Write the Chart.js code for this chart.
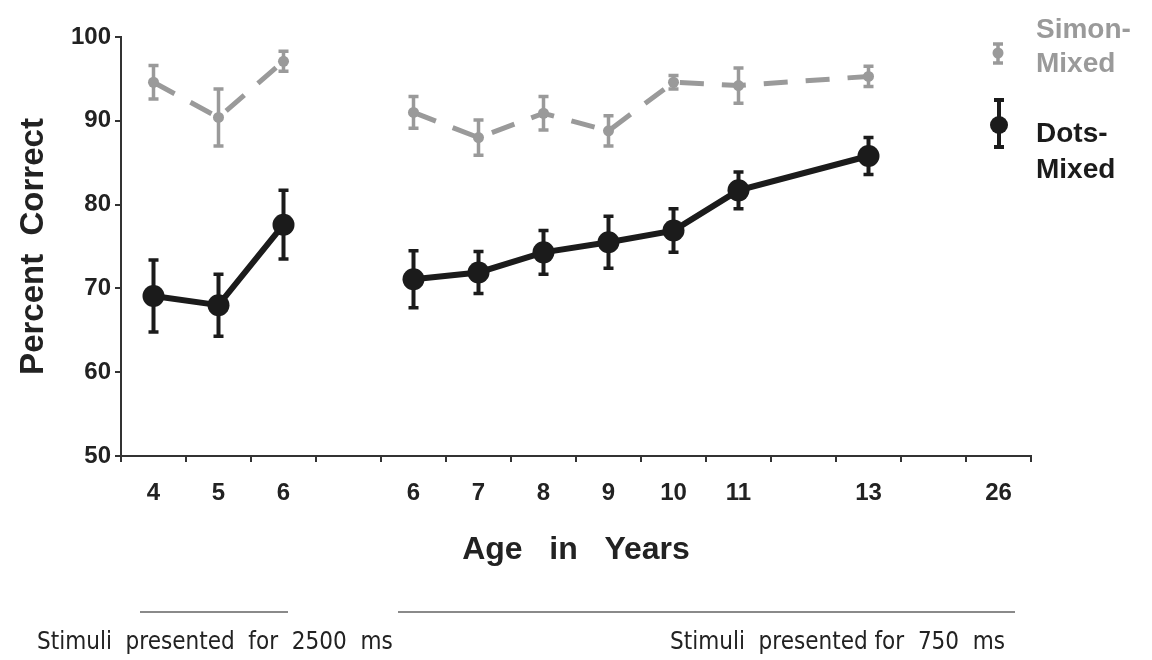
<!DOCTYPE html>
<html>
<head>
<meta charset="utf-8">
<script src="https://cdn.jsdelivr.net/npm/chart.js@4.4.1/dist/chart.umd.min.js"></script>
<style>
  html, body { margin: 0; padding: 0; background: #fff; }
  canvas { display: block; }
</style>
</head>
<body>
<canvas id="myChart" width="1152" height="660"></canvas>
<script>
// slots on the x axis (blank slots are spacers between groups)
const ageLabels = ['4', '5', '6', '', '6', '7', '8', '9', '10', '11', '', '13', '', '26'];

// Percent correct
const dotsMixed = [69.1, 68.0, 77.6, null, 71.1, 71.9, 74.3, 75.5, 76.9, 81.7, null, 85.8, null, null];
const dotsErr   = [4.3, 3.7, 4.1, null, 3.4, 2.5, 2.6, 3.1, 2.6, 2.2, null, 2.2, null, null];
const simonMixed = [94.6, 90.4, 97.1, null, 91.0, 88.0, 90.9, 88.8, 94.6, 94.2, null, 95.3, null, null];
const simonErr   = [2.0, 3.4, 1.2, null, 1.9, 2.1, 2.0, 1.8, 0.8, 2.1, null, 1.2, null, null];

const yTicks = [50, 60, 70, 80, 90, 100];

const BLACK = '#1b1b1b';
const GRAY = '#9a9a9a';
const BOLD = '"Liberation Sans", Arial, sans-serif';
const NARROW = '"Liberation Sans Narrow", "DejaVu Sans Condensed", sans-serif';

// hide the connecting segment between the two age groups
// (with spanGaps the segment ending at slot 4 starts at slot 2)
const skipGap = ctx => ctx.p1DataIndex === 4 ? 'rgba(0,0,0,0)' : undefined;

// vertical error bars with caps
const errorBars = {
  id: 'errorBars',
  beforeDatasetsDraw(chart) {
    const ctx = chart.ctx;
    const yScale = chart.scales.y;
    chart.data.datasets.forEach((ds, di) => {
      const meta = chart.getDatasetMeta(di);
      ds.errors.forEach((e, i) => {
        const v = ds.data[i];
        if (v == null || e == null) return;
        const px = meta.data[i].x;
        const top = yScale.getPixelForValue(v + e);
        const bot = yScale.getPixelForValue(v - e);
        ctx.save();
        ctx.strokeStyle = ds.borderColor;
        ctx.lineWidth = ds.errWidth;
        ctx.beginPath();
        ctx.moveTo(px, top); ctx.lineTo(px, bot);
        ctx.stroke();
        ctx.lineWidth = 3.5;
        ctx.beginPath();
        ctx.moveTo(px - 5, top); ctx.lineTo(px + 5, top);
        ctx.moveTo(px - 5, bot); ctx.lineTo(px + 5, bot);
        ctx.stroke();
        ctx.restore();
      });
    });
  }
};

// legend at top right + stimulus-duration notes below the axis
const extras = {
  id: 'extras',
  afterDraw(chart) {
    const ctx = chart.ctx;
    ctx.save();

    // Simon-Mixed marker
    ctx.strokeStyle = GRAY; ctx.fillStyle = GRAY; ctx.lineWidth = 3.5;
    ctx.beginPath();
    ctx.moveTo(998, 44); ctx.lineTo(998, 63);
    ctx.moveTo(993, 44); ctx.lineTo(1003, 44);
    ctx.moveTo(993, 63); ctx.lineTo(1003, 63);
    ctx.stroke();
    ctx.beginPath(); ctx.arc(998, 53, 5.5, 0, Math.PI * 2); ctx.fill();

    // Dots-Mixed marker
    ctx.strokeStyle = BLACK; ctx.fillStyle = BLACK; ctx.lineWidth = 4;
    ctx.beginPath();
    ctx.moveTo(999, 100); ctx.lineTo(999, 147);
    ctx.moveTo(994, 100); ctx.lineTo(1004, 100);
    ctx.moveTo(994, 147); ctx.lineTo(1004, 147);
    ctx.stroke();
    ctx.beginPath(); ctx.arc(999, 125, 9, 0, Math.PI * 2); ctx.fill();

    ctx.font = 'bold 28px ' + BOLD;
    ctx.textAlign = 'left';
    ctx.textBaseline = 'alphabetic';
    ctx.fillStyle = GRAY;
    ctx.fillText('Simon-', 1036, 38);
    ctx.fillText('Mixed', 1036, 72);
    ctx.fillStyle = BLACK;
    ctx.fillText('Dots-', 1036, 142);
    ctx.fillText('Mixed', 1036, 178);

    // duration notes
    ctx.strokeStyle = '#8a8a8a'; ctx.lineWidth = 2;
    ctx.beginPath();
    ctx.moveTo(140, 612); ctx.lineTo(288, 612);
    ctx.moveTo(398, 612); ctx.lineTo(1015, 612);
    ctx.stroke();

    ctx.fillStyle = '#222';
    ctx.font = '24px ' + NARROW;
    ctx.textBaseline = 'middle';
    ctx.fillText('Stimuli  presented  for  2500  ms', 37, 643);
    ctx.fillText('Stimuli  presented for  750  ms', 670, 643);
    ctx.restore();
  }
};

const ctx = document.getElementById('myChart').getContext('2d');
const chart = new Chart(ctx, {
  type: 'line',
  data: {
    labels: ageLabels,
    datasets: [
      {
        label: 'Dots-Mixed',
        data: dotsMixed,
        errors: dotsErr,
        errWidth: 4,
        borderColor: BLACK,
        backgroundColor: BLACK,
        borderWidth: 6,
        pointRadius: 11,
        pointBorderWidth: 0,
        spanGaps: true,
        segment: { borderColor: skipGap },
        order: 0
      },
      {
        label: 'Simon-Mixed',
        data: simonMixed,
        errors: simonErr,
        errWidth: 3.5,
        borderColor: GRAY,
        backgroundColor: GRAY,
        borderWidth: 5,
        borderDash: [24, 18],
        pointRadius: 5.5,
        pointBorderWidth: 0,
        spanGaps: true,
        segment: { borderColor: skipGap },
        order: 1
      }
    ]
  },
  options: {
    responsive: false,
    animation: false,
    layout: { padding: { top: 37, right: 121, left: 0, bottom: 0 } },
    plugins: {
      legend: { display: false },
      tooltip: { enabled: false }
    },
    scales: {
      x: {
        offset: true,
        border: { display: true, color: '#333', width: 2 },
        grid: { offset: true, drawOnChartArea: false, drawTicks: true, tickLength: 6, color: '#333', lineWidth: 2 },
        ticks: { autoSkip: false, maxRotation: 0, padding: 17, color: '#222', font: { family: BOLD, size: 24, weight: 'bold' } },
        title: {
          display: true,
          text: 'Age   in   Years',
          color: '#222',
          font: { family: BOLD, size: 32, weight: 'bold' },
          padding: { top: 0, bottom: 91 }
        },
        afterFit: scale => { scale.height = 204; }
      },
      y: {
        min: 50,
        max: 100,
        afterBuildTicks: scale => { scale.ticks = yTicks.map(v => ({ value: v })); },
        border: { display: true, color: '#333', width: 2 },
        grid: { drawOnChartArea: false, drawTicks: true, tickLength: 6, color: '#333', lineWidth: 2 },
        ticks: { padding: 4, color: '#222', font: { family: BOLD, size: 24, weight: 'bold' } },
        title: {
          display: true,
          text: 'Percent  Correct',
          color: '#222',
          font: { family: BOLD, size: 33, weight: 'bold' },
          padding: { top: 14, bottom: 0 }
        },
        afterFit: scale => { scale.width = 121; }
      }
    }
  },
  plugins: [errorBars, extras]
});
</script>
</body>
</html>
